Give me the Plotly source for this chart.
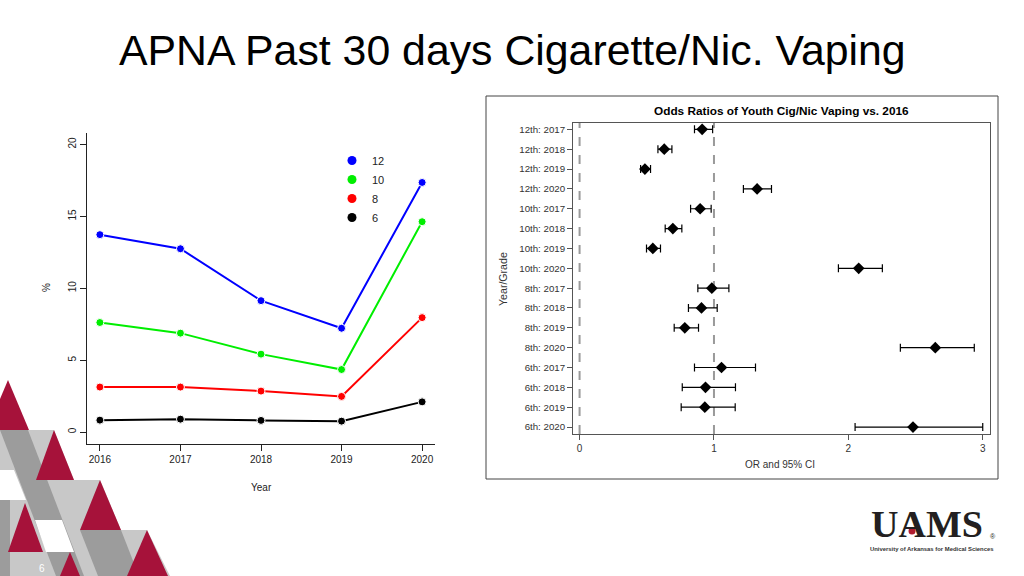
import plotly.graph_objects as go

W, H = 1024, 576
def px(x):
    return x / W
def py(y):
    return 1 - y / H

# ---------------- data: left chart ----------------
years = [2016, 2017, 2018, 2019, 2020]
grade_names = ["12", "10", "8", "6"]
grade_colors = ["#0000ff", "#00ee00", "#ff0000", "#000000"]
pct_12 = [13.73, 12.75, 9.14, 7.22, 17.36]
pct_10 = [7.62, 6.88, 5.42, 4.35, 14.63]
pct_8 = [3.13, 3.13, 2.85, 2.48, 7.96]
pct_6 = [0.83, 0.90, 0.81, 0.76, 2.10]
y_ticks = [0, 5, 10, 15, 20]

# ---------------- data: right chart ----------------
or_labels = ["12th: 2017", "12th: 2018", "12th: 2019", "12th: 2020",
             "10th: 2017", "10th: 2018", "10th: 2019", "10th: 2020",
             "8th: 2017", "8th: 2018", "8th: 2019", "8th: 2020",
             "6th: 2017", "6th: 2018", "6th: 2019", "6th: 2020"]
or_est = [0.912, 0.630, 0.486, 1.321, 0.897, 0.694, 0.545, 2.077,
          0.984, 0.907, 0.783, 2.647, 1.056, 0.937, 0.932, 2.481]
or_lo = [0.855, 0.583, 0.454, 1.219, 0.826, 0.637, 0.498, 1.926,
         0.880, 0.810, 0.704, 2.387, 0.855, 0.764, 0.756, 2.050]
or_hi = [0.990, 0.687, 0.528, 1.428, 0.979, 0.761, 0.602, 2.253,
         1.111, 1.024, 0.885, 2.937, 1.309, 1.160, 1.158, 3.000]
or_ticks = [0, 1, 2, 3]
ref_lines = [0, 1]

FONT = "Liberation Sans, Arial, sans-serif"

fig = go.Figure()

series = [pct_12, pct_10, pct_8, pct_6]
for name, col, vals in zip(grade_names, grade_colors, series):
    fig.add_trace(go.Scatter(
        x=years, y=vals, mode="lines+markers", name=name,
        line=dict(color=col, width=2),
        marker=dict(color=col, size=8, line=dict(color="white", width=1)),
        showlegend=False, xaxis="x", yaxis="y", hoverinfo="skip"))
for name, col in zip(grade_names, grade_colors):
    fig.add_trace(go.Scatter(
        x=[None], y=[None], mode="markers", name=name,
        marker=dict(color=col, size=9), showlegend=True,
        xaxis="x", yaxis="y"))

fig.add_trace(go.Scatter(
    x=or_est, y=or_labels, mode="markers",
    marker=dict(symbol="diamond", color="black", size=9),
    error_x=dict(type="data", symmetric=False,
                 array=[h - e for h, e in zip(or_hi, or_est)],
                 arrayminus=[e - l for e, l in zip(or_est, or_lo)],
                 color="black", thickness=1.2, width=4),
    showlegend=False, xaxis="x2", yaxis="y2"))

shapes = []
for v in ref_lines:
    shapes.append(dict(type="line", xref="x2", yref="y2 domain", x0=v, x1=v,
                       y0=0, y1=1, line=dict(color="#9a9a9a", width=2, dash="dash"),
                       layer="below"))
# outer frame of right panel
shapes.append(dict(type="rect", xref="paper", yref="paper",
                   x0=px(486), x1=px(998), y0=py(479), y1=py(96),
                   line=dict(color="#444444", width=1)))

# decorative triangle pattern (bottom-left)
CR, LG, DG, WH = "#a6123a", "#c8c8c8", "#9c9c9c", "#ffffff"
deco = [
    (LG, [(0, 430), (54, 430), (74, 480), (100, 480), (121, 530), (147, 530), (170, 576), (0, 576)]),
    (DG, [(0, 430), (28, 430), (84, 576), (56, 576)]),
    (DG, [(0, 500), (10, 500), (10, 576), (0, 576)]),
    (DG, [(80, 530), (121, 530), (139, 576), (98, 576)]),
    (WH, [(0, 470), (14, 470), (26, 500), (0, 500)]),
    (WH, [(35, 520), (62, 520), (74, 552), (46, 552)]),
    (CR, [(8, 380), (29, 430), (-13, 430)]),
    (CR, [(54, 430), (74, 480), (36, 480)]),
    (CR, [(100, 480), (121, 530), (80, 530)]),
    (CR, [(147, 530), (168, 576), (127, 576)]),
    (CR, [(25, 503), (43, 552), (8, 552)]),
    (CR, [(70, 552), (80, 576), (60, 576)]),
]
for col, pts in deco:
    path = "M " + " L ".join(f"{px(x):.5f},{py(y):.5f}" for x, y in pts) + " Z"
    shapes.append(dict(type="path", xref="paper", yref="paper", path=path,
                       fillcolor=col, line=dict(width=0), layer="below"))
# red dot in UAMS logo
shapes.append(dict(type="circle", xref="paper", yref="paper",
                   x0=px(908.5), x1=px(915.5), y0=py(534.5), y1=py(527.5),
                   fillcolor="#b01c2e", line=dict(width=0)))

def ann(text, x, y, size, color="#222222", family=FONT, angle=0, xanchor="center"):
    return dict(text=text, x=px(x), y=py(y), xref="paper", yref="paper",
                xanchor=xanchor, yanchor="middle", textangle=angle, showarrow=False,
                font=dict(family=family, size=size, color=color))

annotations = [
    ann("APNA Past 30 days Cigarette/Nic. Vaping", 117, 50, 42.8, "#000000", xanchor="left"),
    ann("%", 46, 288, 10, angle=-90),
    ann("Year", 261, 487, 10),
    ann("<b>Odds Ratios of Youth Cig/Nic Vaping vs. 2016</b>", 781, 111, 11.8, "#000000"),
    ann("Year/Grade", 503, 279, 10.6, "#333333", angle=-90),
    ann("OR and 95% CI", 780, 464, 10, "#333333"),
    ann("<b>UAMS</b>", 927, 524, 38, "#231f20", family="Liberation Serif, serif"),
    ann("®", 993, 536, 7, "#231f20"),
    ann("<b>University of Arkansas for Medical Sciences</b>", 932, 549, 5.9, "#333333"),
    ann("6", 42, 568, 10, "#ffffff"),
]

fig.update_layout(
    width=W, height=H, margin=dict(l=0, r=0, t=0, b=0),
    paper_bgcolor="white", plot_bgcolor="rgba(0,0,0,0)",
    font=dict(family=FONT, color="#222222"),
    shapes=shapes, annotations=annotations,
    legend=dict(x=px(332), y=py(146), xanchor="left", yanchor="top",
                bgcolor="rgba(0,0,0,0)", font=dict(family=FONT, size=11, color="#222222"),
                itemwidth=30, tracegroupgap=0),
    xaxis=dict(domain=[px(87), px(435)], range=[2015.84, 2020.16],
               tickvals=years, ticks="outside", ticklen=6, tickcolor="#222222",
               showline=True, linecolor="#222222", linewidth=1, showgrid=False,
               zeroline=False, tickfont=dict(size=10, color="#222222"), anchor="y"),
    yaxis=dict(domain=[py(444), py(133)], range=[-0.83, 20.8],
               tickvals=y_ticks, ticks="outside", ticklen=6, tickcolor="#222222",
               tickangle=-90, showline=True, linecolor="#222222", linewidth=1,
               showgrid=False, zeroline=False, tickfont=dict(size=10, color="#222222"),
               anchor="x"),
    xaxis2=dict(domain=[px(573), px(990)], range=[-0.049, 3.054],
                tickvals=or_ticks, ticks="outside", ticklen=5, tickcolor="#555555",
                showline=True, mirror=True, linecolor="#555555", linewidth=1,
                showgrid=False, zeroline=False, tickfont=dict(size=10, color="#333333"),
                anchor="y2"),
    yaxis2=dict(domain=[py(434), py(123)], type="category",
                categoryorder="array", categoryarray=or_labels, range=[15.35, -0.32],
                ticks="outside", ticklen=5, tickcolor="#555555",
                showline=True, mirror=True, linecolor="#555555", linewidth=1,
                showgrid=False, zeroline=False, tickfont=dict(size=9.7, color="#333333"),
                anchor="x2"),
)

fig.write_html("out.html", config={"displayModeBar": False},
               post_script="document.body.style.margin='0px';")
